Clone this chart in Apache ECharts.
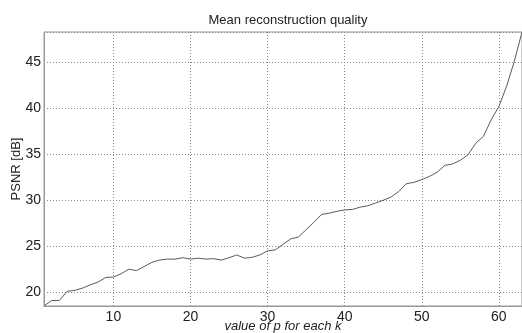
<!DOCTYPE html>
<html>
<head>
<meta charset="utf-8">
<script src="https://cdn.jsdelivr.net/npm/echarts@6/dist/echarts.min.js"></script>
<style>
  html, body { margin: 0; padding: 0; background: #fff; }
  #chart { width: 522px; height: 333px; }
</style>
</head>
<body>
<div id="chart"></div>
<script>
        // values of p (x axis)
        const pValues = [1, 2, 3, 4, 5, 6, 7, 8, 9, 10, 11, 12, 13, 14, 15, 16, 17, 18, 19, 20,
            21, 22, 23, 24, 25, 26, 27, 28, 29, 30, 31, 32, 33, 34, 35, 36, 37, 38, 39, 40,
            41, 42, 43, 44, 45, 46, 47, 48, 49, 50, 51, 52, 53, 54, 55, 56, 57, 58, 59, 60,
            61, 62, 63];
        // mean PSNR in dB
        const psnr = [18.5, 19.1, 19.1, 20.1, 20.2, 20.45, 20.8, 21.1, 21.6, 21.65,
            22.0, 22.5, 22.35, 22.8, 23.25, 23.5, 23.6, 23.6, 23.75, 23.6,
            23.7, 23.6, 23.65, 23.5, 23.75, 24.05, 23.7, 23.8, 24.05, 24.5,
            24.6, 25.2, 25.8, 26.0, 26.8, 27.6, 28.45, 28.6, 28.8, 28.95,
            29.0, 29.25, 29.4, 29.7, 30.0, 30.35, 30.95, 31.8, 31.95, 32.25,
            32.6, 33.05, 33.8, 33.95, 34.35, 34.95, 36.2, 36.95, 38.75, 40.2,
            42.4, 45.1, 48.3];
        const xTicks = [10, 20, 30, 40, 50, 60];
        const yTicks = [20, 25, 30, 35, 40, 45];

        const chart = echarts.init(document.getElementById('chart'));
        const textColor = '#222';
        const gridColor = '#8a8a8a';
        const font = 'Liberation Sans, Arial, sans-serif';

        const seriesData = pValues.map(function(p, i) { return [p, psnr[i]]; });

        chart.setOption({
            animation: false,
            title: {
                text: 'Mean reconstruction quality',
                left: 283,
                textAlign: 'center',
                top: 9,
                textStyle: { fontFamily: font, fontSize: 13, fontWeight: 'normal', color: textColor }
            },
            grid: {
                left: 44, right: 0, top: 32, bottom: 27,
                outerBoundsMode: 'none',
                containLabel: false,
                show: true,
                borderColor: '#999',
                borderWidth: 1
            },
            xAxis: {
                type: 'value',
                min: 1,
                max: 63,
                splitNumber: 6,
                name: 'value of p for each k',
                nameLocation: 'middle',
                nameGap: 14,
                nameMoveOverlap: false,
                nameTextStyle: { fontFamily: font, fontSize: 13, fontStyle: 'italic', color: textColor },
                axisLine: { show: true, lineStyle: { color: '#999' } },
                axisTick: { show: false },
                axisLabel: {
                    fontFamily: font, fontSize: 14, color: textColor, margin: 4,
                    showMinLabel: false, showMaxLabel: false,
                    formatter: function(v) { return xTicks.indexOf(v) >= 0 ? String(v) : ''; }
                },
                splitLine: { show: true, lineStyle: { color: gridColor, type: [1, 2], width: 1 } }
            },
            yAxis: {
                type: 'value',
                min: 18.5,
                max: 48.3,
                splitNumber: 6,
                name: 'PSNR [dB]',
                nameLocation: 'middle',
                nameGap: 21,
                nameMoveOverlap: false,
                nameTextStyle: { fontFamily: font, fontSize: 13, color: textColor },
                axisLine: { show: true, lineStyle: { color: '#999' } },
                axisTick: { show: false },
                axisLabel: {
                    fontFamily: font, fontSize: 14, color: textColor, margin: 3,
                    showMinLabel: false, showMaxLabel: false,
                    formatter: function(v) { return yTicks.indexOf(v) >= 0 ? String(v) : ''; }
                },
                splitLine: { show: true, lineStyle: { color: gridColor, type: [1, 2], width: 1 } }
            },
            series: [{
                type: 'line',
                data: seriesData,
                symbol: 'none',
                lineStyle: { color: '#5a5a5a', width: 1 }
            }]
        });
</script>
</body>
</html>
